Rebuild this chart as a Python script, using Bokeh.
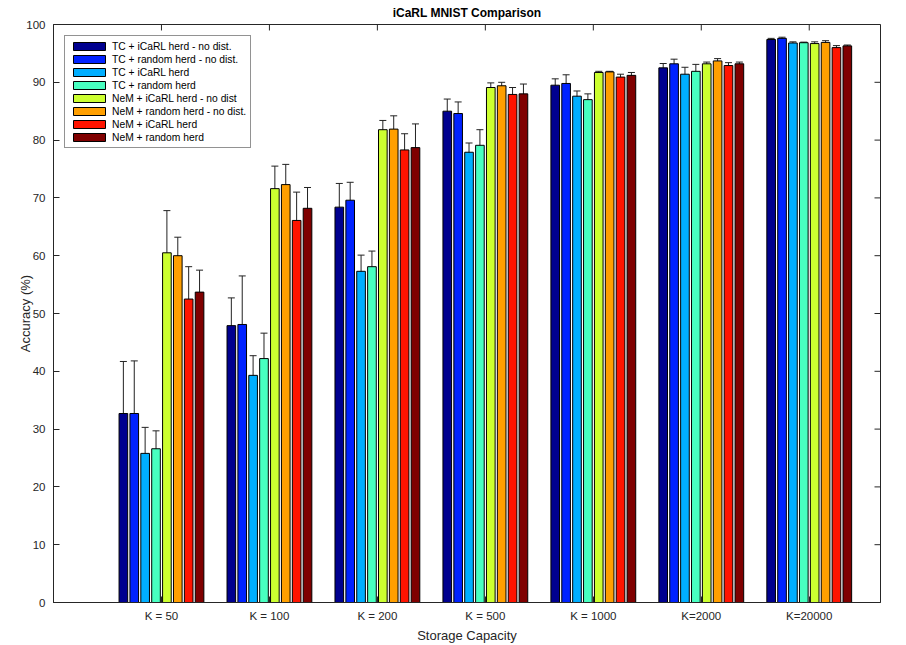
from bokeh.plotting import figure
from bokeh.models import (ColumnDataSource, Range1d, FixedTicker, Whisker,
                          TeeHead, Legend, LegendItem)
from bokeh.embed import file_html
from bokeh.resources import INLINE

# ---------------- data ----------------
groups = ["K = 50", "K = 100", "K = 200", "K = 500", "K = 1000", "K=2000", "K=20000"]
series_names = [
    "TC + iCaRL herd - no dist.",
    "TC + random herd - no dist.",
    "TC + iCaRL herd",
    "TC + random herd",
    "NeM + iCaRL herd - no dist",
    "NeM + random herd - no dist.",
    "NeM + iCaRL herd",
    "NeM + random herd",
]
tc_icarl_nodist = [32.7, 47.9, 68.4, 85.0, 89.5, 92.5, 97.4]
tc_random_nodist = [32.7, 48.1, 69.6, 84.6, 89.8, 93.2, 97.6]
tc_icarl = [25.8, 39.3, 57.3, 77.9, 87.6, 91.4, 96.8]
tc_random = [26.6, 42.2, 58.1, 79.1, 87.0, 91.9, 96.85]
nem_icarl_nodist = [60.5, 71.6, 81.8, 89.1, 91.7, 93.2, 96.7]
nem_random_nodist = [60.0, 72.3, 81.9, 89.4, 91.8, 93.7, 96.9]
nem_icarl = [52.5, 66.1, 78.3, 87.9, 90.9, 92.9, 96.0]
nem_random = [53.7, 68.2, 78.7, 88.0, 91.2, 93.2, 96.3]

err_tc_icarl_nodist = [9.0, 4.8, 4.1, 2.1, 1.1, 0.75, 0.2]
err_tc_random_nodist = [9.1, 8.4, 3.1, 2.0, 1.5, 0.8, 0.2]
err_tc_icarl = [4.5, 3.4, 2.8, 1.6, 0.9, 1.2, 0.2]
err_tc_random = [3.1, 4.4, 2.7, 2.7, 1.0, 1.2, 0.1]
err_nem_icarl_nodist = [7.3, 3.9, 1.6, 0.8, 0.2, 0.3, 0.3]
err_nem_random_nodist = [3.2, 3.5, 2.3, 0.6, 0.1, 0.4, 0.3]
err_nem_icarl = [5.6, 4.9, 2.8, 1.2, 0.5, 0.5, 0.35]
err_nem_random = [3.8, 3.6, 4.1, 1.7, 0.5, 0.3, 0.15]

y_ticks = [0, 10, 20, 30, 40, 50, 60, 70, 80, 90, 100]

colors = ["#00008F", "#0022FF", "#00AEFF", "#48FFC0", "#CCFF30", "#FF9F00", "#FF1400", "#7F0000"]

values = [tc_icarl_nodist, tc_random_nodist, tc_icarl, tc_random,
          nem_icarl_nodist, nem_random_nodist, nem_icarl, nem_random]
errors = [err_tc_icarl_nodist, err_tc_random_nodist, err_tc_icarl, err_tc_random,
          err_nem_icarl_nodist, err_nem_random_nodist, err_nem_icarl, err_nem_random]

# ---------------- figure ----------------
FONT = "Liberation Sans"
AX = "#262626"

p = figure(width=906, height=645, output_backend="svg", toolbar_location=None,
           x_range=Range1d(0, 7.66), y_range=Range1d(0, 100),
           min_border_left=53, min_border_right=26, min_border_top=24, min_border_bottom=40,
           title="iCaRL MNIST Comparison")
p.title.align = "center"
p.title.vertical_align = "top"
p.title.text_font = FONT
p.title.text_font_size = "12px"
p.title.text_font_style = "bold"
p.title.text_color = "black"
p.title.standoff = 6

p.background_fill_color = "white"
p.border_fill_color = "white"
p.outline_line_color = AX
p.outline_line_width = 1
p.xgrid.visible = False
p.ygrid.visible = False

n_series = len(values)
pitch = 0.1008
bar_w = 0.080

renderers = []
for s in range(n_series):
    xs = [g + 1 + (s - (n_series - 1) / 2) * pitch for g in range(len(groups))]
    vals = values[s]
    errs = errors[s]
    src = ColumnDataSource(dict(
        x=xs, top=vals,
        upper=[v + e for v, e in zip(vals, errs)],
        lower=[v - e for v, e in zip(vals, errs)],
    ))
    r = p.vbar(x="x", top="top", width=bar_w, bottom=0, source=src,
               fill_color=colors[s], line_color="black", line_width=1)
    renderers.append(r)
    w = Whisker(source=src, base="x", upper="upper", lower="lower", dimension="height",
                line_color="#222222", line_width=1,
                upper_head=TeeHead(size=7, line_color="#222222", line_width=1),
                lower_head=TeeHead(size=7, line_color="#222222", line_width=1))
    p.add_layout(w)

# axes
xa = p.xaxis[0]
xa.ticker = FixedTicker(ticks=list(range(1, len(groups) + 1)))
xa.major_label_overrides = {i + 1: g for i, g in enumerate(groups)}
xa.axis_label = "Storage Capacity"
ya = p.yaxis[0]
ya.ticker = FixedTicker(ticks=y_ticks)
ya.axis_label = "Accuracy (%)"

for ax in (xa, ya):
    ax.major_tick_in = 6
    ax.major_tick_out = 0
    ax.minor_tick_line_color = None
    ax.axis_line_color = AX
    ax.major_tick_line_color = AX
    ax.major_label_text_font = FONT
    ax.major_label_text_font_size = "11.5px"
    ax.major_label_text_color = AX
    ax.axis_label_text_font = FONT
    ax.axis_label_text_font_size = "13px"
    ax.axis_label_text_font_style = "normal"
    ax.axis_label_text_color = AX

xa.major_label_standoff = 7
xa.axis_label_standoff = 3
ya.major_label_standoff = 8
ya.axis_label_standoff = -10

# mirrored tick marks on the right and top (box style), drawn as segments
x_end = p.x_range.end
y_end = p.y_range.end
tick_dx = 6 * (p.x_range.end - p.x_range.start) / 827.0
tick_dy = 6 * (p.y_range.end - p.y_range.start) / 581.0
p.segment(x0=[x_end] * len(y_ticks), y0=y_ticks,
          x1=[x_end - tick_dx] * len(y_ticks), y1=y_ticks,
          line_color=AX, line_width=1)
gx = list(range(1, len(groups) + 1))
p.segment(x0=gx, y0=[y_end] * len(gx), x1=gx, y1=[y_end - tick_dy] * len(gx),
          line_color=AX, line_width=1)

legend = Legend(items=[LegendItem(label=series_names[i], renderers=[renderers[i]])
                       for i in range(n_series)])
legend.location = "top_left"
legend.margin = 11
legend.padding = 4
legend.spacing = 1
legend.label_height = 12
legend.glyph_height = 10
legend.glyph_width = 40
legend.label_standoff = 3
legend.label_text_font = FONT
legend.label_text_font_size = "10.3px"
legend.label_text_color = "black"
legend.border_line_color = AX
legend.border_line_width = 1
legend.background_fill_alpha = 1
p.add_layout(legend, "center")

open("out.html", "w").write(file_html(p, INLINE))
